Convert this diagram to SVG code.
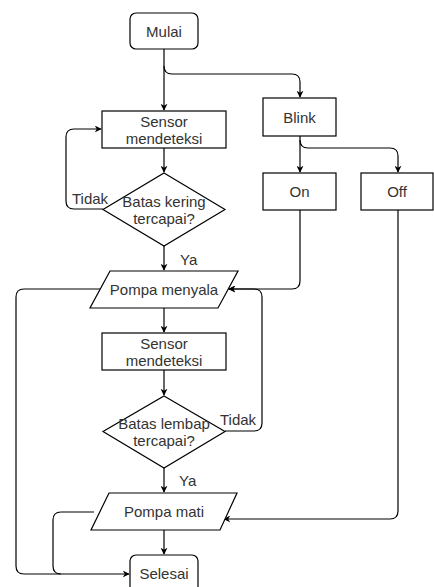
<svg xmlns="http://www.w3.org/2000/svg" width="434" height="587" viewBox="0 0 434 587">
<defs>
<marker id="ah" viewBox="0 0 10 10" refX="9" refY="5" markerWidth="7" markerHeight="7" orient="auto" markerUnits="userSpaceOnUse">
<path d="M0,0 L10,5 L0,10 L3,5 Z" fill="#000"/>
</marker>
<style>
.s{fill:#fff;stroke:#000;stroke-width:1.2}
.t{font-family:"Liberation Sans",Arial,sans-serif;font-size:15px;fill:#333;text-anchor:middle}
.l{font-family:"Liberation Sans",Arial,sans-serif;font-size:15px;fill:#333}
.c{fill:none;stroke:#000;stroke-width:1.2;marker-end:url(#ah)}
</style>
</defs>
<rect width="434" height="587" fill="#fff"/>
<g id="connectors">
<path class="c" d="M164,49 V110"/>
<path class="c" d="M164,66 Q164,74 172,74 H292 Q300,74 300,82 V97"/>
<path class="c" d="M164,148 V172"/>
<path class="c" d="M103,209 H74 Q66,209 66,201 V137 Q66,129 74,129 H101"/>
<path class="c" d="M164,246 V270"/>
<path class="c" d="M300,136 V172"/>
<path class="c" d="M300,140 Q300,148 308,148 H390 Q398,148 398,156 V172"/>
<path class="c" d="M300,210 V281 Q300,289 292,289 H229"/>
<path class="c" d="M225,431 H254 Q262,431 262,423 V297 Q262,289 254,289 H229"/>
<path class="c" d="M100,289 H24 Q16,289 16,297 V566 Q16,574 24,574 H129"/>
<path class="c" d="M164,308 V332"/>
<path class="c" d="M164,370 V395"/>
<path class="c" d="M164,468 V492"/>
<path class="c" d="M398,210 V511 Q398,519 390,519 H224"/>
<path fill="none" stroke="#000" stroke-width="1.2" d="M94,512 H61 Q53,512 53,520 V566 Q53,574 61,574"/>
<path class="c" d="M164,530 V554"/>
</g>
<g id="mulai"><rect class="s" x="130" y="13" width="68" height="36" rx="6"/><text class="t" x="164" y="36.5">Mulai</text></g>
<g id="sensor1"><rect class="s" x="102" y="111" width="124" height="37"/><text class="t" x="164" y="127">Sensor</text><text class="t" x="164" y="144">mendeteksi</text></g>
<g id="blink"><rect class="s" x="263" y="98" width="73" height="38"/><text class="t" x="299.5" y="122.5">Blink</text></g>
<g id="on"><rect class="s" x="263" y="173" width="73" height="37"/><text class="t" x="299.5" y="197">On</text></g>
<g id="off"><rect class="s" x="361" y="173" width="72" height="37"/><text class="t" x="397" y="197">Off</text></g>
<g id="kering"><path class="s" d="M164,173 L225,209.5 L164,246 L103,209.5 Z"/><text class="t" x="164" y="206.5">Batas kering</text><text class="t" x="164" y="223.5">tercapai?</text></g>
<g id="menyala"><path class="s" d="M110,271 H238 L218,308 H90 Z"/><text class="t" x="164" y="295">Pompa menyala</text></g>
<g id="sensor2"><rect class="s" x="102" y="333" width="124" height="37"/><text class="t" x="164" y="349">Sensor</text><text class="t" x="164" y="366">mendeteksi</text></g>
<g id="lembap"><path class="s" d="M164,396 L225,431.5 L164,468 L103,431.5 Z"/><text class="t" x="164" y="428.5">Batas lembap</text><text class="t" x="164" y="445.5">tercapai?</text></g>
<g id="mati"><path class="s" d="M109,493 H237 L220,530 H91 Z"/><text class="t" x="164" y="517">Pompa mati</text></g>
<g id="selesai"><rect class="s" x="130" y="555" width="68" height="40" rx="6"/><text class="t" x="164" y="579">Selesai</text></g>
<g id="labels">
<text class="l" x="72" y="203.5">Tidak</text>
<text class="l" x="180" y="265">Ya</text>
<text class="l" x="220" y="425">Tidak</text>
<text class="l" x="179" y="486">Ya</text>
</g>
</svg>
